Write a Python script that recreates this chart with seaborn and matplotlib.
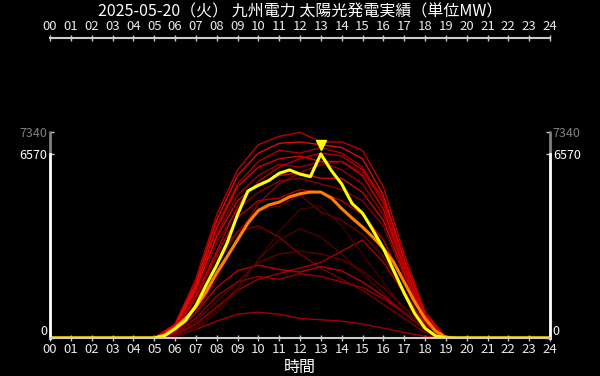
import numpy as np
import pandas as pd
import seaborn as sns
import matplotlib.pyplot as plt
import matplotlib.transforms as mtransforms

# --- data (MW) -------------------------------------------------------------
TITLE = "2025-05-20（火） 九州電力 太陽光発電実績（単位MW）"

half_hours = np.arange(0, 24.5, 0.5)

today = [0] * 10 + [
    0, 80, 330, 620, 1150, 1900, 2600, 3390, 4400, 5250,
    5450, 5620, 5880, 6000, 5850, 5760, 6570, 5980, 5500, 4800,
    4460, 3850, 3200, 2400, 1600, 880, 350, 80, 0,
] + [0] * 10

average = [0] * 10 + [
    0, 100, 350, 700, 1100, 1650, 2320, 2900, 3500, 4100,
    4550, 4750, 4850, 5040, 5150, 5210, 5210, 5000, 4620, 4280,
    3960, 3600, 3200, 2700, 2000, 1300, 700, 250, 30,
] + [0] * 10

past_hours = [0, 5, 6, 7, 8, 9, 10, 11, 12, 13, 14, 15, 16, 17, 18, 19, 24]

past_days = {
    "d01": [0, 0, 500, 2100, 4400, 6000, 6900, 7200, 7340, 7000, 7000, 6700, 5400, 3000, 950, 0, 0],
    "d02": [0, 0, 450, 1950, 4200, 5800, 6600, 6950, 7000, 6900, 6800, 6400, 5100, 2800, 850, 0, 0],
    "d03": [0, 0, 400, 1800, 4000, 5500, 6300, 6700, 6600, 6800, 6600, 6100, 4800, 2600, 800, 0, 0],
    "d04": [0, 0, 420, 1850, 3900, 5400, 6100, 6400, 6500, 6300, 6300, 5800, 4600, 2500, 750, 0, 0],
    "d05": [0, 0, 350, 1700, 3700, 5100, 5800, 6200, 6100, 6300, 6000, 5500, 4400, 2400, 700, 0, 0],
    "d06": [0, 0, 380, 1750, 3600, 4900, 5500, 5800, 5900, 5700, 5700, 5200, 4200, 2300, 650, 0, 0],
    "d07": [0, 0, 330, 1600, 3400, 4600, 5200, 5600, 5700, 5500, 5300, 4900, 4000, 2200, 600, 0, 0],
    "d08": [0, 0, 300, 1400, 3000, 4300, 4900, 5000, 5300, 5200, 4900, 4400, 3500, 2000, 550, 0, 0],
    "d09": [0, 0, 250, 1200, 2600, 3800, 4600, 4700, 5100, 4500, 4200, 3700, 2900, 1700, 450, 0, 0],
    "d10": [0, 0, 100, 500, 1100, 1700, 2100, 2300, 2500, 2700, 3100, 3500, 2700, 1600, 500, 0, 0],
    "d11": [0, 0, 200, 900, 1800, 2400, 2600, 2450, 2350, 2550, 2400, 2000, 1500, 900, 300, 0, 0],
    "d12": [0, 0, 150, 700, 1500, 2000, 2200, 2100, 2300, 2200, 2000, 1800, 1400, 900, 300, 0, 0],
    "d13": [0, 0, 60, 300, 600, 850, 920, 850, 700, 650, 600, 500, 350, 200, 60, 0, 0],
    "d14": [0, 0, 80, 400, 1000, 1800, 2800, 3500, 3900, 3600, 3000, 2300, 1600, 900, 300, 0, 0],
    "d15": [0, 0, 50, 300, 900, 1700, 2800, 3800, 4600, 4700, 4000, 3000, 2000, 1000, 300, 0, 0],
    "d16": [0, 0, 300, 1400, 2900, 3800, 4000, 3600, 3000, 2500, 2100, 1700, 1200, 700, 200, 0, 0],
    "d17": [0, 0, 120, 600, 1300, 2000, 2700, 3000, 3100, 3000, 2800, 2400, 1800, 1100, 350, 0, 0],
    "d18": [0, 0, 200, 900, 2100, 3600, 4800, 5500, 5900, 6200, 6300, 5900, 4900, 2700, 800, 0, 0],
    "d19": [0, 0, 300, 1500, 3100, 4700, 5600, 6100, 6400, 6600, 6500, 6000, 5000, 2800, 850, 0, 0],
}

day_colors = {
    "d01": "#e00000", "d02": "#ff1010", "d03": "#c80000", "d04": "#ff0000",
    "d05": "#b00000", "d06": "#e81010", "d07": "#a00000", "d08": "#d00000",
    "d09": "#800000", "d10": "#c00000", "d11": "#e00000", "d12": "#b00000",
    "d13": "#c00000", "d14": "#600000", "d15": "#500000", "d16": "#900000",
    "d17": "#700000", "d18": "#a00000", "d19": "#d80000",
}

df_past = pd.concat(
    [pd.DataFrame({"hour": past_hours, "mw": v, "day": k}) for k, v in past_days.items()]
)
df_today = pd.DataFrame({"hour": half_hours, "mw": today})
df_avg = pd.DataFrame({"hour": half_hours, "mw": average})

today_max = max(today)
all_max = max(today_max, df_past["mw"].max())

# --- style -------------------------------------------------------------------
sns.set_style("dark")
plt.rcParams["font.family"] = ["Noto Sans CJK JP", "DejaVu Sans"]

fig = plt.figure(figsize=(6, 3.76), dpi=100, facecolor="black")
ax = fig.add_axes([50 / 600, 38 / 376, 500 / 600, 300 / 376], facecolor="black")

sns.lineplot(data=df_past, x="hour", y="mw", hue="day", palette=day_colors,
             estimator=None, legend=False, lw=1.0, alpha=0.85, ax=ax)
sns.lineplot(data=df_avg, x="hour", y="mw", color="#ff8000", lw=2.2, ax=ax)
sns.lineplot(data=df_today, x="hour", y="mw", color="#ffff00", lw=2.2, ax=ax)

# marker above today's peak
peak_hour = df_today.loc[df_today["mw"].idxmax(), "hour"]
tr = mtransforms.offset_copy(ax.transData, fig=fig, x=0, y=6.5, units="points")
ax.plot([peak_hour], [today_max], marker="v", color="#ffff00", ms=7.5, transform=tr)

ax.set_xlim(0, 24)
ax.set_ylim(0, 10710)
ax.grid(False)

# x axes top and bottom
ax.set_xticks(range(25))
ax.set_xticklabels([f"{h:02d}" for h in range(25)])
ax.tick_params(axis="x", top=True, labeltop=True, bottom=True, labelbottom=True,
               direction="inout", length=4, width=1, color="#cccccc",
               labelcolor="#e8e8e8", labelsize=9.5, pad=1.5)
ax.set_xlabel("時間", color="white", fontsize=11.5, labelpad=2)
ax.set_ylabel("")

# y axes left and right
ax.set_yticks([0, today_max, all_max])
ax.set_yticklabels(["0", str(today_max), str(all_max)])
ax.tick_params(axis="y", left=True, right=True, labelleft=True, labelright=True,
               direction="in", length=3, width=1, color="#cccccc", labelsize=9, pad=2)
for t in ax.yaxis.get_major_ticks():
    c = "gray" if t.get_loc() == all_max else "white"
    t.label1.set_color(c)
    t.label2.set_color(c)
    if t.get_loc() == 0:
        t.label1.set_va("bottom")
        t.label2.set_va("bottom")

for side in ["top", "bottom"]:
    ax.spines[side].set_color("#cccccc")
    ax.spines[side].set_linewidth(1.5)
for side, x in [("left", 0), ("right", 24)]:
    ax.spines[side].set_bounds(0, today_max)
    ax.spines[side].set_color("white")
    ax.spines[side].set_linewidth(2)
    ax.plot([x, x], [today_max, all_max], color="gray", lw=2, clip_on=False)

fig.text(0.5, 1 - 12 / 376, TITLE, color="white", fontsize=11.5, ha="center", va="center")

fig.savefig("out.png", dpi=100, facecolor="black")
